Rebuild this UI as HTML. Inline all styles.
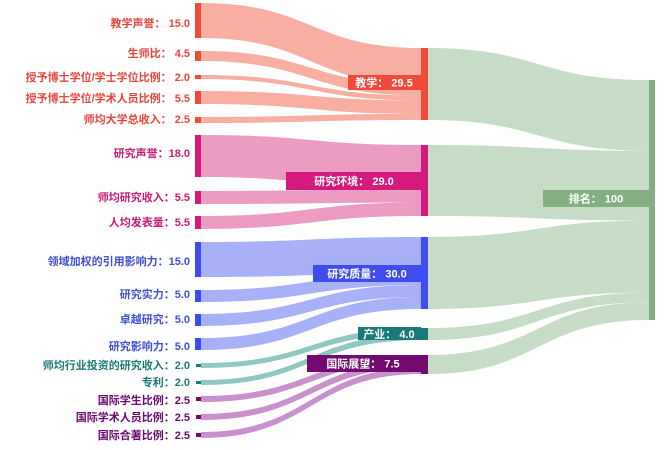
<!DOCTYPE html>
<html><head><meta charset="utf-8"><style>
html,body{margin:0;padding:0;background:#fff;}
svg{display:block;}
text{font-family:"Liberation Sans","Noto Sans CJK SC",sans-serif;font-weight:bold;font-size:11px;}
</style></head><body>
<svg width="665" height="450" viewBox="0 0 665 450" xmlns="http://www.w3.org/2000/svg">
<!-- green links -->
<g fill="#c6dcc6">
<path d="M428,48 C538,48 538,80 649,80 L649,150.8 C538,150.8 538,120 428,120 Z"/>
<path d="M428,145 C538,145 538,150.8 649,150.8 L649,220.6 C538,220.6 538,216 428,216 Z"/>
<path d="M428,237 C538,237 538,220.6 649,220.6 L649,292.6 C538,292.6 538,309 428,309 Z"/>
<path d="M428,328 C538,328 538,292.6 649,292.6 L649,302.2 C538,302.2 538,340 428,340 Z"/>
<path d="M428,355 C538,355 538,302.2 649,302.2 L649,320 C538,320 538,374 428,374 Z"/>
</g>
<!-- teaching links -->
<g fill="#f8aea0">
<path d="M201,3 C311,3 311,48 421,48 L421,84.6 C311,84.6 311,38 201,38 Z"/>
<path d="M201,51 C311,51 311,84.6 421,84.6 L421,95.6 C311,95.6 311,61 201,61 Z"/>
<path d="M201,75 C311,75 311,95.6 421,95.6 L421,100.5 C311,100.5 311,79 201,79 Z"/>
<path d="M201,91 C311,91 311,100.5 421,100.5 L421,113.9 C311,113.9 311,104 201,104 Z"/>
<path d="M201,117 C311,117 311,113.9 421,113.9 L421,120 C311,120 311,123 201,123 Z"/>
</g>
<g fill="#ec9cc2">
<path d="M201,135 C311,135 311,145 421,145 L421,189 C311,189 311,177 201,177 Z"/>
<path d="M201,191 C311,191 311,189 421,189 L421,202.5 C311,202.5 311,204 201,204 Z"/>
<path d="M201,216 C311,216 311,202.5 421,202.5 L421,216 C311,216 311,229 201,229 Z"/>
</g>
<g fill="#a8b0f8">
<path d="M201,242 C311,242 311,237 421,237 L421,273 C311,273 311,277 201,277 Z"/>
<path d="M201,290 C311,290 311,273 421,273 L421,285 C311,285 311,302 201,302 Z"/>
<path d="M201,314 C311,314 311,285 421,285 L421,297 C311,297 311,326 201,326 Z"/>
<path d="M201,338 C311,338 311,297 421,297 L421,309 C311,309 311,350 201,350 Z"/>
</g>
<g fill="#8fc8c0">
<path d="M201,363 C311,363 311,328 421,328 L421,334 C311,334 311,368 201,368 Z"/>
<path d="M201,380 C311,380 311,334 421,334 L421,340 C311,340 311,385 201,385 Z"/>
</g>
<g fill="#c890cc">
<path d="M201,396 C311,396 311,355 421,355 L421,361.3 C311,361.3 311,402 201,402 Z"/>
<path d="M201,414 C311,414 311,361.3 421,361.3 L421,367.7 C311,367.7 311,420 201,420 Z"/>
<path d="M201,432 C311,432 311,367.7 421,367.7 L421,374 C311,374 311,438 201,438 Z"/>
</g>
<!-- left nodes -->
<g fill="#f04a3a">
<rect x="195" y="3" width="6" height="35"/><rect x="195" y="51" width="6" height="10"/>
<rect x="195" y="75" width="6" height="4"/><rect x="195" y="91" width="6" height="13"/>
<rect x="195" y="117" width="6" height="6"/>
</g>
<g fill="#d41a7c">
<rect x="195" y="135" width="6" height="42"/><rect x="195" y="191" width="6" height="13"/><rect x="195" y="216" width="6" height="13"/>
</g>
<g fill="#3f4cf0">
<rect x="195" y="242" width="6" height="35"/><rect x="195" y="290" width="6" height="12"/><rect x="195" y="314" width="6" height="12"/><rect x="195" y="338" width="6" height="12"/>
</g>
<g fill="#1a7a78"><rect x="196" y="364" width="5" height="3"/><rect x="196" y="381" width="5" height="3"/></g>
<g fill="#720a70"><rect x="196" y="397" width="5" height="4"/><rect x="196" y="415" width="5" height="4"/><rect x="196" y="433" width="5" height="4"/></g>
<!-- middle nodes -->
<rect x="421" y="48" width="7" height="72" fill="#f04a3a"/>
<rect x="421" y="145" width="7" height="71" fill="#d41a7c"/>
<rect x="421" y="237" width="7" height="72" fill="#3f4cf0"/>
<rect x="421" y="328" width="7" height="12" fill="#1a7a78"/>
<rect x="421" y="355" width="7" height="19" fill="#720a70"/>
<rect x="649" y="80" width="6" height="240" fill="#82b080"/>
<!-- middle label boxes -->
<rect x="348" y="75" width="73" height="15" fill="#f04a3a"/>
<text x="384" y="86.5" fill="#fff" text-anchor="middle">教学： 29.5</text>
<rect x="286" y="172" width="135" height="18" fill="#d41a7c"/>
<text x="354" y="185" fill="#fff" text-anchor="middle">研究环境： 29.0</text>
<rect x="313" y="265" width="108" height="17" fill="#3f4cf0"/>
<text x="367" y="277.5" fill="#fff" text-anchor="middle">研究质量： 30.0</text>
<rect x="358" y="327" width="63" height="13" fill="#1a7a78"/>
<text x="389" y="338" fill="#fff" text-anchor="middle">产业： 4.0</text>
<rect x="307" y="355" width="114" height="17" fill="#720a70"/>
<text x="363" y="367.5" fill="#fff" text-anchor="middle">国际展望： 7.5</text>
<rect x="543" y="190" width="106" height="17" fill="#82b080"/>
<text x="596" y="202.5" fill="#fff" text-anchor="middle">排名： 100</text>
<!-- left labels -->
<g text-anchor="end" fill="#e8453a">
<text x="190" y="27">教学声誉： 15.0</text>
<text x="190" y="57">生师比： 4.5</text>
<text x="190" y="81">授予博士学位/学士学位比例： 2.0</text>
<text x="190" y="102">授予博士学位/学术人员比例： 5.5</text>
<text x="190" y="123">师均大学总收入： 2.5</text>
</g>
<g text-anchor="end" fill="#c81a78">
<text x="190" y="157">研究声誉：18.0</text>
<text x="190" y="201">师均研究收入：5.5</text>
<text x="190" y="226">人均发表量：5.5</text>
</g>
<g text-anchor="end" fill="#4050d0">
<text x="190" y="265">领域加权的引用影响力：15.0</text>
<text x="190" y="298">研究实力：5.0</text>
<text x="190" y="323">卓越研究：5.0</text>
<text x="190" y="350">研究影响力：5.0</text>
</g>
<g text-anchor="end" fill="#1a7a78">
<text x="190" y="369">师均行业投资的研究收入：2.0</text>
<text x="190" y="386">专利：2.0</text>
</g>
<g text-anchor="end" fill="#6a0a70">
<text x="190" y="404">国际学生比例：2.5</text>
<text x="190" y="421">国际学术人员比例：2.5</text>
<text x="190" y="439">国际合著比例：2.5</text>
</g>
</svg>
</body></html>
